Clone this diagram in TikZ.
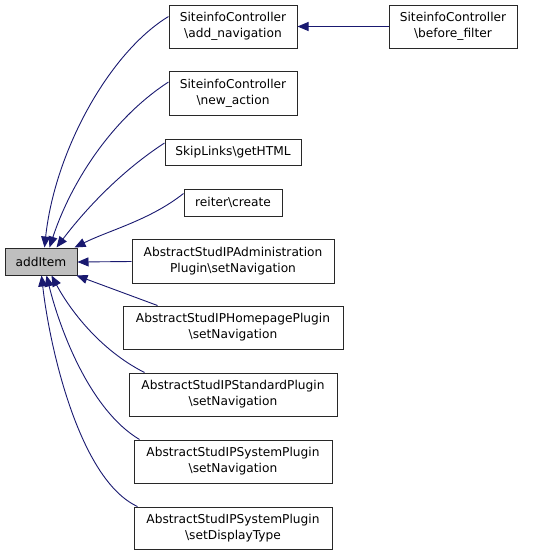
\documentclass[tikz,border=0pt]{standalone}
\usepackage{fontspec}
\setmainfont{DejaVu Sans}
\usetikzlibrary{arrows.meta}
\definecolor{edgeblue}{RGB}{25,25,112}
\definecolor{boxgray}{RGB}{191,191,191}
\definecolor{boxline}{RGB}{40,40,40}
\begin{document}
\begin{tikzpicture}[x=1pt,y=-1pt,
  fn/.style={draw=boxline,line width=1pt,fill=white,inner sep=0pt,align=center,
    font=\fontsize{12.2}{16}\selectfont},
  edge/.style={draw=edgeblue,line width=0.9pt,-{Triangle[length=11pt,width=9pt]}}]
\useasboundingbox (0,0) rectangle (541,555);
\node[fn,fill=boxgray,minimum width=72pt,minimum height=27pt] (ai) at (41,261.5) {addItem};
\node[fn,minimum width=128pt,minimum height=43pt] (an) at (233,26.5) {SiteinfoController\\\textbackslash add\_navigation};
\node[fn,minimum width=128pt,minimum height=43pt] (bf) at (453,26.5) {SiteinfoController\\\textbackslash before\_filter};
\node[fn,minimum width=128pt,minimum height=44pt] (na) at (233,93) {SiteinfoController\\\textbackslash new\_action};
\node[fn,minimum width=136pt,minimum height=26pt] (gh) at (233,152) {SkipLinks\textbackslash getHTML};
\node[fn,minimum width=98pt,minimum height=27pt] (rc) at (233,202.5) {reiter\textbackslash create};
\node[fn,minimum width=202pt,minimum height=44pt] (ad) at (233,261) {AbstractStudIPAdministration\\Plugin\textbackslash setNavigation};
\node[fn,minimum width=220pt,minimum height=43pt] (hp) at (233,327.5) {AbstractStudIPHomepagePlugin\\\textbackslash setNavigation};
\node[fn,minimum width=208pt,minimum height=43pt] (sp) at (233,394.5) {AbstractStudIPStandardPlugin\\\textbackslash setNavigation};
\node[fn,minimum width=198pt,minimum height=43pt] (sn) at (233,461.5) {AbstractStudIPSystemPlugin\\\textbackslash setNavigation};
\node[fn,minimum width=198pt,minimum height=42pt] (sd) at (233,528) {AbstractStudIPSystemPlugin\\\textbackslash setDisplayType};
% edges
\draw[edge] (bf.west) -- (an.east);
\draw[edge] ([yshift=10pt]an.west) .. controls (110,52) and (55,150) .. ([xshift=40pt]ai.north west);
\draw[edge] ([yshift=11pt]na.west) .. controls (110,120) and (70,185) .. ([xshift=45pt]ai.north west);
\draw[edge] ([yshift=9pt]gh.west) .. controls (120,172) and (85,210) .. ([xshift=52pt]ai.north west);
\draw[edge] ([yshift=9pt]rc.west) .. controls (150,220) and (110,230) .. ([xshift=70pt]ai.north west);
\draw[edge] ([yshift=-0.5pt]ad.west) -- ([yshift=-0.5pt]ai.east);
\draw[edge] ([xshift=35pt]hp.north west) -- ([xshift=-1pt]ai.south east);
\draw[edge] ([xshift=16pt]sp.north west) .. controls (100,350) and (70,310) .. ([xshift=47pt]ai.south west);
\draw[edge] ([xshift=6pt]sn.north west) .. controls (90,410) and (60,330) .. ([xshift=42pt]ai.south west);
\draw[edge] ([xshift=4pt]sd.north west) .. controls (80,480) and (50,350) .. ([xshift=37pt]ai.south west);
\end{tikzpicture}
\end{document}
